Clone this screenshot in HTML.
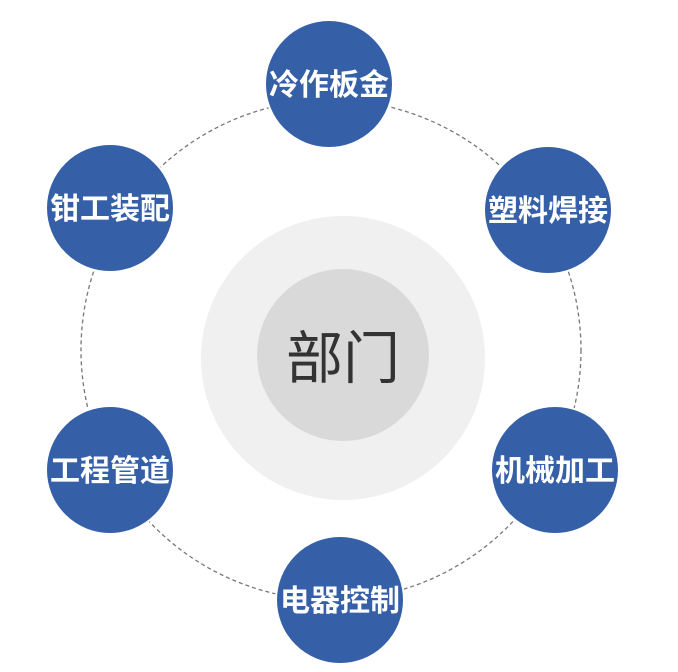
<!DOCTYPE html>
<html><head><meta charset="utf-8"><style>
html,body{margin:0;padding:0;background:#fff;width:678px;height:672px;overflow:hidden}
</style></head><body>
<svg width="678" height="672" xmlns="http://www.w3.org/2000/svg" style="display:block">
<circle cx="331" cy="350" r="250" fill="none" stroke="#777" stroke-width="1.3" stroke-dasharray="4,3"/>
<circle cx="343" cy="358" r="142" fill="#f0f0f0"/>
<circle cx="343" cy="355" r="86" fill="#d9d9d9"/>
<text x="343" y="378" text-anchor="middle" font-family="Liberation Sans, Noto Sans CJK SC, sans-serif" font-size="57" fill="#333">部门</text>
<g fill="#3560a8" stroke="#fff" stroke-width="2">
<circle cx="329" cy="84" r="64"/>
<circle cx="548" cy="210" r="64"/>
<circle cx="555" cy="470" r="64"/>
<circle cx="340" cy="600" r="64"/>
<circle cx="110" cy="470" r="64"/>
<circle cx="110" cy="208" r="64"/>
</g>
<g font-family="Liberation Sans, Noto Sans CJK SC, sans-serif" font-size="30" font-weight="bold" fill="#fff" text-anchor="middle">
<text x="329" y="95">冷作板金</text>
<text x="548" y="221">塑料焊接</text>
<text x="555" y="481">机械加工</text>
<text x="340" y="611">电器控制</text>
<text x="110" y="481">工程管道</text>
<text x="110" y="219">钳工装配</text>
</g>
</svg>
</body></html>
